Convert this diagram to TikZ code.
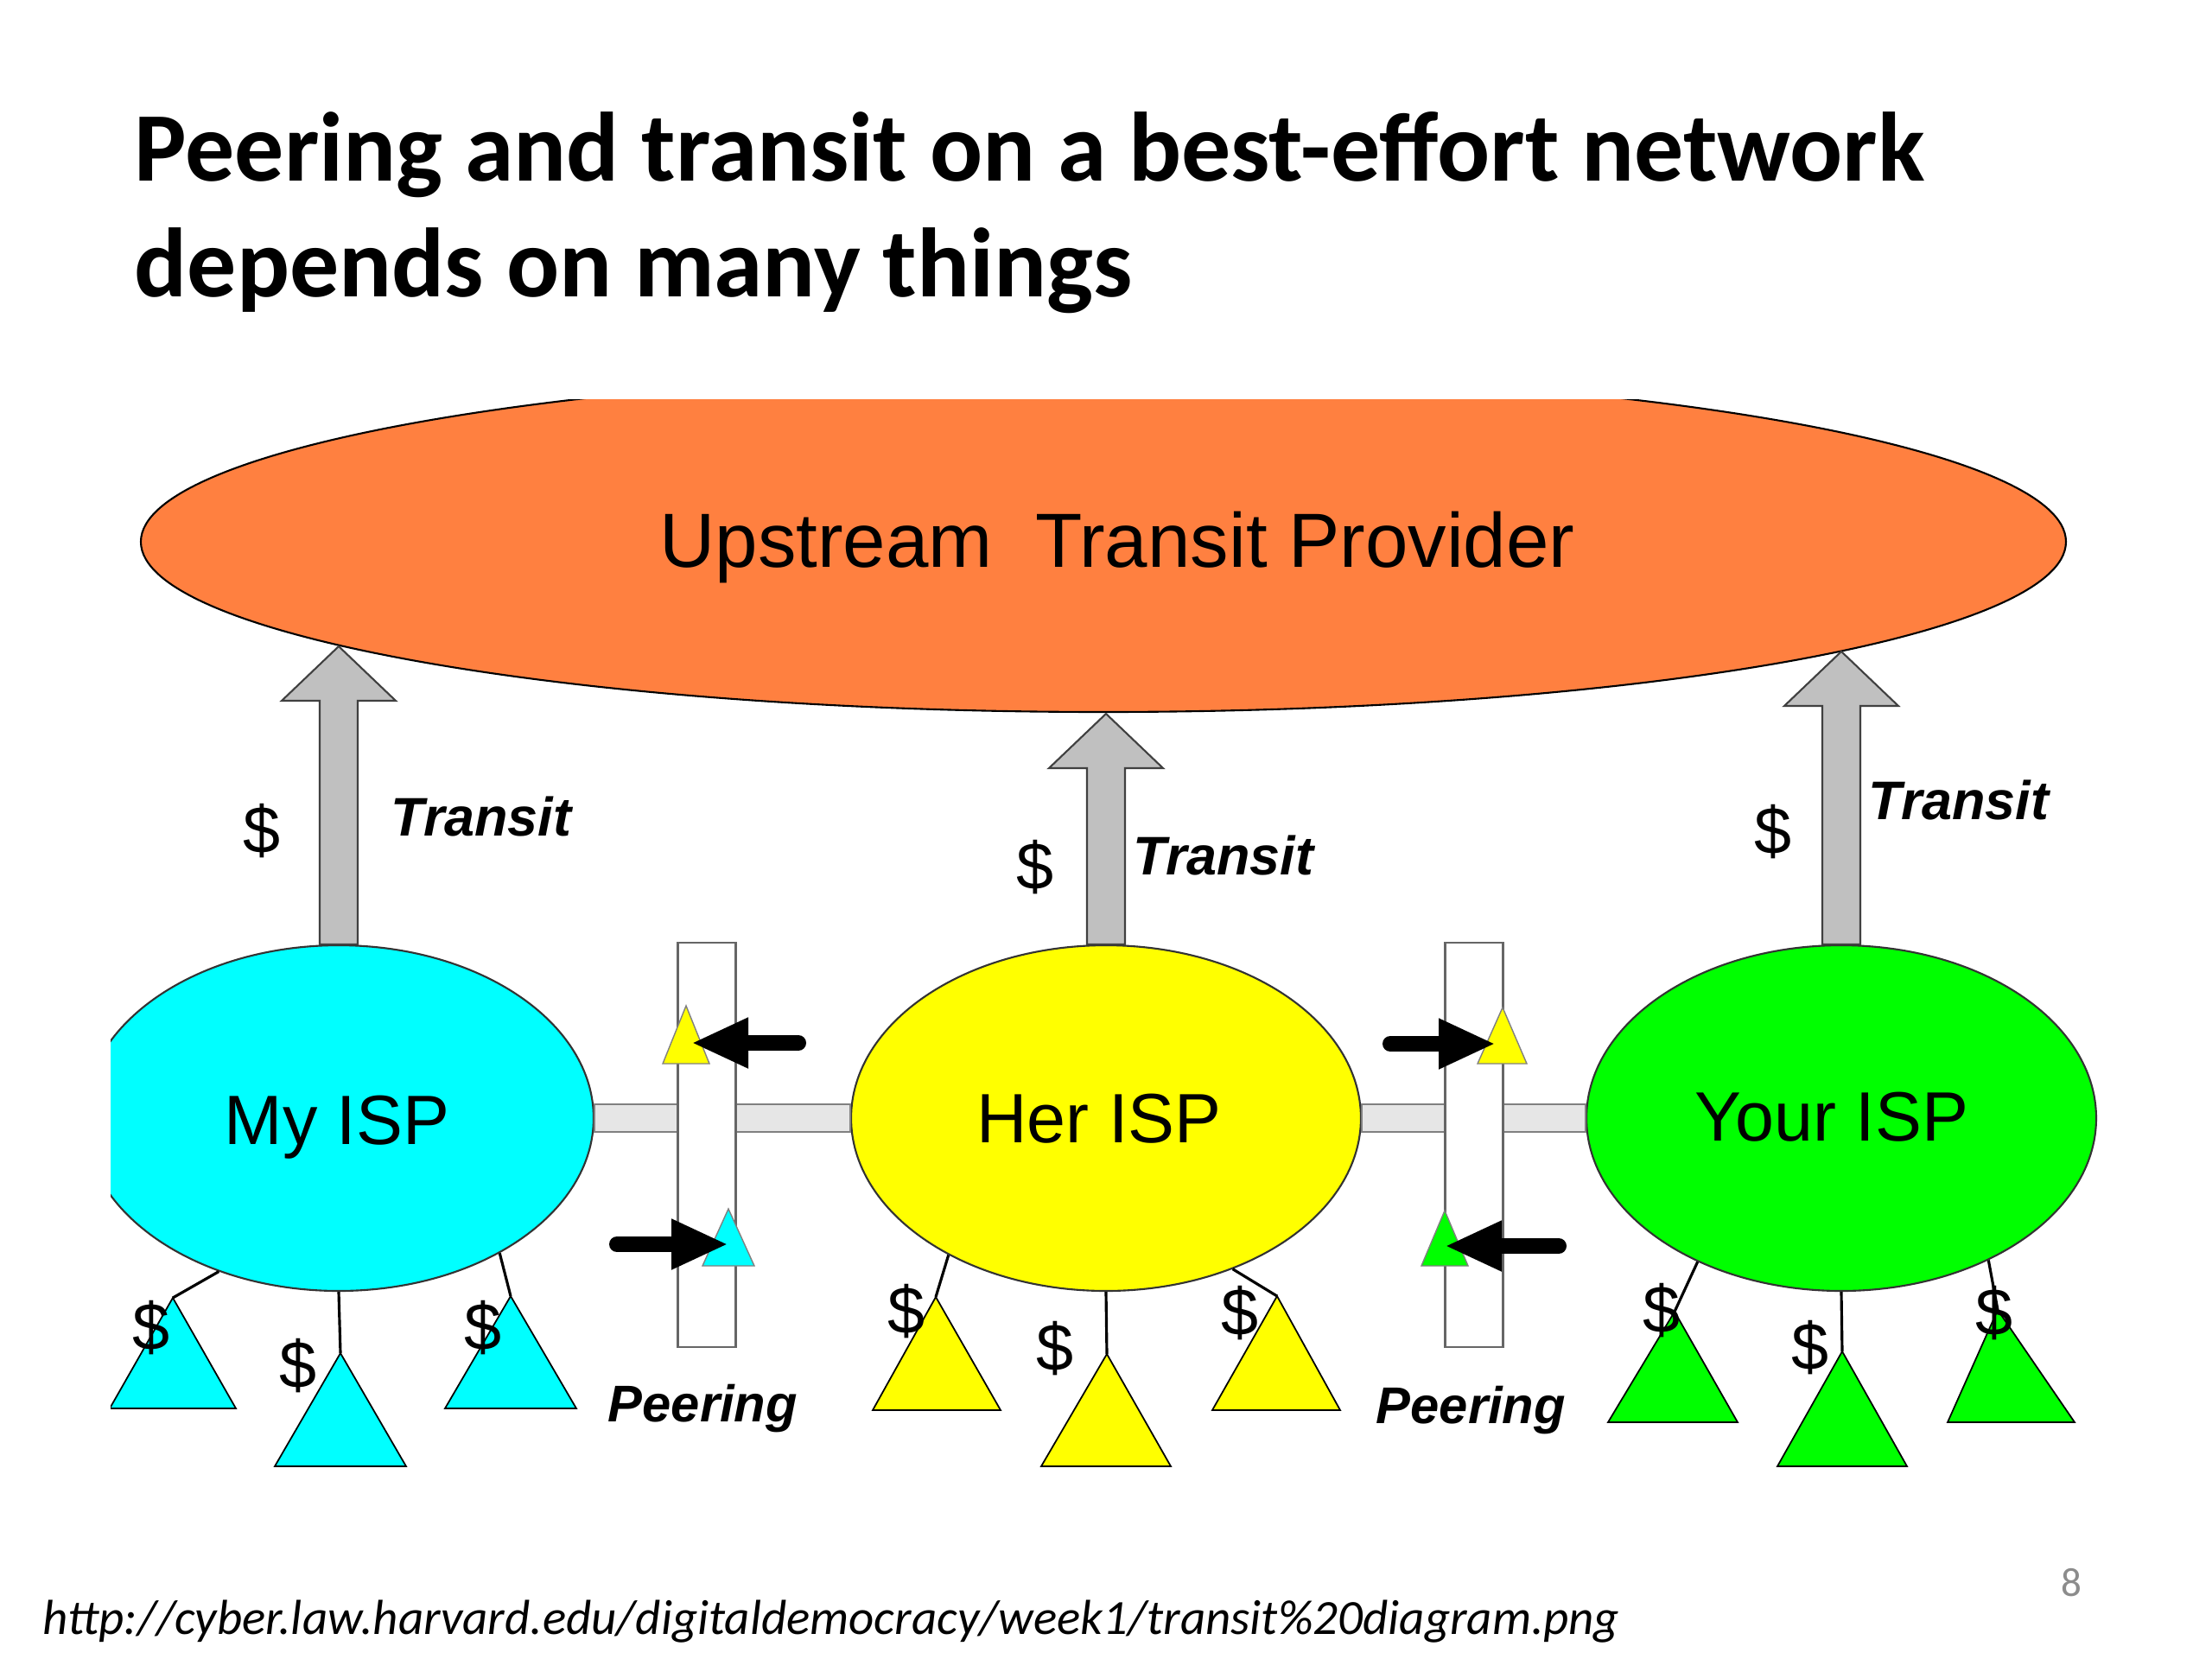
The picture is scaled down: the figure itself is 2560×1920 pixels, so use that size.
\documentclass[tikz,border=0pt]{standalone}
\usepackage{fontspec}
\setmainfont{Carlito}
\newfontfamily\arialf{Liberation Sans}
\usetikzlibrary{shapes.geometric,arrows.meta,calc}
\definecolor{orangeup}{RGB}{255,128,64}
\definecolor{cyanf}{RGB}{0,255,255}
\definecolor{yellowf}{RGB}{255,255,0}
\definecolor{greenf}{RGB}{0,255,0}
\definecolor{arrowgray}{RGB}{192,192,192}
\definecolor{bandgray}{RGB}{230,230,230}
\tikzset{
  upstream/.style={ellipse, draw=black, line width=0.6pt, fill=orangeup, inner sep=0pt,
    minimum width=222.8mm, minimum height=39.4mm},
  isp/.style={ellipse, draw=black!80, line width=0.6pt, inner sep=0pt,
    minimum width=59mm, minimum height=40mm},
  transarrow/.style={draw=black!75, line width=0.6pt, fill=arrowgray, line join=miter},
  band/.style={draw=black!50, line width=0.6pt, fill=bandgray},
  peerbox/.style={rectangle, draw=black!60, line width=0.6pt, fill=white, inner sep=0pt,
    minimum width=6.7mm, minimum height=46.8mm},
  smalltri/.style={draw=black!50, line width=0.4pt},
  peerarrow/.style={line width=1.8mm, line cap=round, black,
    -{Triangle[length=6.6mm,width=5.4mm]}},
  wire/.style={draw=black, line width=0.9pt},
  custtri/.style={draw=black, line width=0.5pt},
  isplabel/.style={font=\arialf\fontsize{23}{27}\selectfont, inner sep=0pt, anchor=base},
  translabel/.style={font=\arialf\bfseries\itshape\fontsize{17.9}{21}\selectfont, inner sep=0pt, anchor=base west},
  peerlabel/.style={font=\arialf\bfseries\itshape\fontsize{17}{21}\selectfont, inner sep=0pt, anchor=base west},
  dollar/.style={font=\arialf\fontsize{22}{26}\selectfont, inner sep=0pt}
}
\begin{document}
\begin{tikzpicture}[x=0.1mm,y=-0.1mm]
\useasboundingbox (0,0) rectangle (2560,1920);
\fill[white] (0,0) rectangle (2560,1920);

% title
\node[anchor=base west, inner sep=0pt, font=\fontsize{32.4}{38}\selectfont\bfseries] (title1) at (155,209) {Peering and transit on a best-effort network};
\node[anchor=base west, inner sep=0pt, font=\fontsize{32.4}{38}\selectfont\bfseries] (title2) at (155,343) {depends on many things};

% upstream ellipse (clipped at the top)
\begin{scope}
  \clip (0,462) rectangle (2560,1920);
  \node[upstream] (up) at (1277,627) {};
\end{scope}
\node[font=\arialf\fontsize{25.3}{30}\selectfont, inner sep=0pt, anchor=base] (uplbl) at (1293,656) {Upstream\ \ Transit Provider};

% ISP ellipses
\begin{scope}
  \clip (128,0) rectangle (2560,1920);
  \node[isp, fill=cyanf] (my) at (392,1294) {};
\end{scope}
\node[isp, fill=yellowf] (her) at (1280,1294) {};
\node[isp, fill=greenf] (your) at (2131,1294) {};

% transit arrows
\coordinate (tip1) at (392,748);
\coordinate (tip2) at (1280,826);
\coordinate (tip3) at (2131,754);
\foreach \isp/\tip in {my/tip1, her/tip2, your/tip3}{
  \draw[transarrow] ($(\isp.north)+(-22,0)$) -- ($(\tip)+(-22,63)$) -- ($(\tip)+(-66,63)$) -- (\tip)
     -- ($(\tip)+(66,63)$) -- ($(\tip)+(22,63)$) -- ($(\isp.north)+(22,0)$) -- cycle;
}

% peering bands
\draw[band] ($(my.east)+(0,-16)$) rectangle ($(her.west)+(0,16)$);
\draw[band] ($(her.east)+(0,-16)$) rectangle ($(your.west)+(0,16)$);

% peering boxes
\node[peerbox] (p1) at (818,1325) {};
\node[peerbox] (p2) at (1706,1325) {};

% small triangles at the peering points
\draw[smalltri, fill=yellowf] (794,1164) -- (821,1231) -- (767,1231) -- cycle;
\draw[smalltri, fill=cyanf] (843,1399) -- (873,1465) -- (813,1465) -- cycle;
\draw[smalltri, fill=yellowf] (1739,1166) -- (1767,1231) -- (1710,1231) -- cycle;
\draw[smalltri, fill=greenf] (1672,1401) -- (1699,1465) -- (1645,1465) -- cycle;

% black peering arrows
\coordinate (a1s) at (924,1207); \coordinate (a1e) at (800,1207);
\coordinate (a2s) at (714,1440); \coordinate (a2e) at (843,1440);
\coordinate (a3s) at (1609,1208); \coordinate (a3e) at (1731,1208);
\coordinate (a4s) at (1804,1442); \coordinate (a4e) at (1672,1442);
\draw[peerarrow] (a1s) -- (a1e);
\draw[peerarrow] (a2s) -- (a2e);
\draw[peerarrow] (a3s) -- (a3e);
\draw[peerarrow] (a4s) -- (a4e);

% customers of My ISP
\coordinate (cL) at (200,1502);
\coordinate (cM) at (394,1566);
\coordinate (cR) at (591,1500);
\draw[wire] (my.232) -- (cL);
\draw[wire] (my.south) -- (cM);
\draw[wire] (my.320) -- (cR);
\begin{scope}
  \clip (128,0) rectangle (2560,1920);
  \draw[custtri, fill=cyanf] (cL) -- (273,1630) -- (127,1630) -- cycle;
\end{scope}
\draw[custtri, fill=cyanf] (cM) -- (470,1697) -- (318,1697) -- cycle;
\draw[custtri, fill=cyanf] (cR) -- (667,1630) -- (515,1630) -- cycle;

% customers of Her ISP
\coordinate (hL) at (1083,1501);
\coordinate (hM) at (1281,1567);
\coordinate (hR) at (1478,1500);
\draw[wire] (her.221) -- (hL);
\draw[wire] (her.south) -- (hM);
\draw[wire] (her.310) -- (hR);
\draw[custtri, fill=yellowf] (hL) -- (1158,1632) -- (1010,1632) -- cycle;
\draw[custtri, fill=yellowf] (hM) -- (1355,1697) -- (1205,1697) -- cycle;
\draw[custtri, fill=yellowf] (hR) -- (1551,1632) -- (1403,1632) -- cycle;

% customers of Your ISP
\coordinate (yL) at (1938,1518);
\coordinate (yM) at (2132,1564);
\coordinate (yR) at (2312,1516);
\draw[wire] (your.225) -- (yL);
\draw[wire] (your.south) -- (yM);
\draw[wire] (your.316) -- (yR);
\draw[custtri, fill=greenf] (yL) -- (2011,1646) -- (1861,1646) -- cycle;
\draw[custtri, fill=greenf] (yM) -- (2207,1697) -- (2057,1697) -- cycle;
\draw[custtri, fill=greenf] (yR) -- (2401,1646) -- (2254,1646) -- cycle;

% ISP labels
\node[isplabel] (mylbl) at (390,1324) {My ISP};
\node[isplabel] (herlbl) at (1272,1322) {Her ISP};
\node[isplabel] (yourlbl) at (2120,1320) {Your ISP};

% transit labels
\node[translabel] (tr1) at (452,967) {Transit};
\node[translabel] (tr2) at (1311,1012) {Transit};
\node[translabel] (tr3) at (2162,948) {Transit};
\node[dollar] (d1) at (303,962) {\$};
\node[dollar] (d2) at (1198,1004) {\$};
\node[dollar] (d3) at (2052,963) {\$};

% peering labels
\node[peerlabel] (pl1) at (703,1645) {Peering};
\node[peerlabel] (pl2) at (1592,1647) {Peering};

% customer dollars
\node[dollar] (dc1) at (175,1537) {\$};
\node[dollar] (dc2) at (345,1581) {\$};
\node[dollar] (dc3) at (559,1537) {\$};
\node[dollar] (dh1) at (1049,1518) {\$};
\node[dollar] (dh2) at (1221,1561) {\$};
\node[dollar] (dh3) at (1435,1520) {\$};
\node[dollar] (dy1) at (1923,1517) {\$};
\node[dollar] (dy2) at (2095,1560) {\$};
\node[dollar] (dy3) at (2308,1520) {\$};

% footer
\node[anchor=base west, inner sep=0pt, font=\fontsize{16.2}{19}\selectfont\itshape] (src) at (49,1891) {http://cyber.law.harvard.edu/digitaldemocracy/week1/transit\%20diagram.png};
\node[font=\fontsize{13.4}{16}\selectfont, text=black!45, inner sep=0pt] (pgno) at (2397,1832) {8};
\end{tikzpicture}
\end{document}
